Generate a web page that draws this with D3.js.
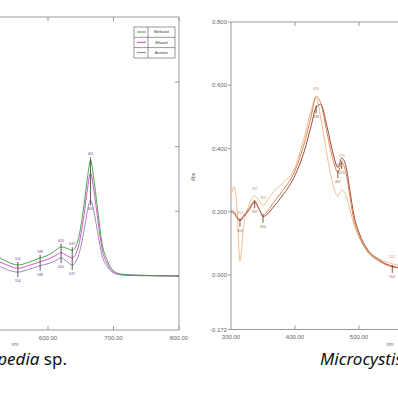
<!DOCTYPE html>
<html>
<head>
<meta charset="utf-8">
<script src="https://cdn.jsdelivr.net/npm/d3@7"></script>
<style>
  html, body { margin: 0; padding: 0; background: #fff; }
  svg { display: block; }
  .tick-label { font-family: 'Liberation Sans', Arial, sans-serif; font-size: 6px; fill: #666; }
  .caption { font-family: 'Noto Sans', sans-serif; font-size: 17px; fill: #111; }
</style>
</head>
<body>
<div id="chart"></div>
<script>
// ---- left panel (Merismopedia sp.) ----
const leftNm = [500, 526, 540, 554, 570, 588, 600, 612, 620, 628, 637, 646, 655, 660, 665, 670, 675, 683, 690, 698, 711, 725, 742, 770, 800];
const leftMethanol = [0.040, 0.028, 0.021, 0.017, 0.021, 0.028, 0.032, 0.040, 0.045, 0.043, 0.040, 0.056, 0.110, 0.150, 0.179, 0.150, 0.110, 0.048, 0.025, 0.010, 0.003, 0.002, 0.001, 0.0005, 0.0];
const leftEthanol = [0.034, 0.022, 0.016, 0.012, 0.016, 0.022, 0.026, 0.032, 0.036, 0.032, 0.028, 0.044, 0.095, 0.133, 0.159, 0.133, 0.095, 0.040, 0.020, 0.008, 0.002, 0.001, 0.001, 0.0005, 0.0];
const leftAcetone = [0.026, 0.015, 0.009, 0.006, 0.010, 0.016, 0.019, 0.024, 0.028, 0.023, 0.017, 0.030, 0.070, 0.100, 0.117, 0.100, 0.072, 0.030, 0.015, 0.006, 0.002, 0.001, 0.0005, 0.0, 0.0];
const leftSeries = ['Methanol', 'Ethanol', 'Acetone'];
const leftTicksX = [600, 700, 800];
const leftTicksY = [0, 0.1, 0.2, 0.3];
const leftMarks = [554, 588, 620, 637, 665];

// ---- right panel (Microcystis) ----
const rightNm = [300, 305, 309, 314, 320, 328, 337, 344, 350, 358, 365, 380, 400, 415, 425, 433, 440, 450, 460, 467, 473, 480, 486, 492, 500, 512, 533, 552, 570, 600];
const rightOrange = [0.205, 0.200, 0.185, 0.175, 0.190, 0.210, 0.235, 0.210, 0.190, 0.205, 0.225, 0.265, 0.330, 0.420, 0.500, 0.565, 0.545, 0.450, 0.360, 0.325, 0.355, 0.320, 0.245, 0.175, 0.125, 0.078, 0.042, 0.026, 0.021, 0.018];
const rightDark = [0.200, 0.195, 0.182, 0.172, 0.185, 0.205, 0.230, 0.208, 0.185, 0.195, 0.212, 0.250, 0.315, 0.395, 0.470, 0.530, 0.540, 0.470, 0.380, 0.340, 0.370, 0.340, 0.265, 0.190, 0.135, 0.085, 0.046, 0.028, 0.022, 0.019];
const rightPeach = [0.250, 0.280, 0.220, 0.045, 0.160, 0.220, 0.250, 0.235, 0.220, 0.240, 0.260, 0.290, 0.340, 0.440, 0.520, 0.560, 0.500, 0.380, 0.280, 0.250, 0.270, 0.250, 0.205, 0.160, 0.120, 0.080, 0.050, 0.036, 0.028, 0.024];
const rightTicksX = [300, 400, 500];
const rightTicksY = [0.8, 0.6, 0.4, 0.2, 0.0, -0.172];
const rightTickText = ['0.800', '0.600', '0.400', '0.200', '0.000', '-0.172'];
const rightMarks = [314, 337, 350, 433, 467, 473, 552];

const width = 398, height = 398;
const axisColor = '#9a9a9a';

const svg = d3.select('#chart').append('svg')
  .attr('width', width)
  .attr('height', height);

// ===== left panel =====
const lx = d3.scaleLinear().domain([600, 800]).range([48, 179]);
const ly = d3.scaleLinear().domain([0, 0.3]).range([276, 82]);
const leftColors = d3.scaleOrdinal().domain(leftSeries).range(['#3c9c3c', '#cc44c4', '#9a78b8']);

const left = svg.append('g');
// frame
left.append('line').attr('x1', 0).attr('x2', lx(800)).attr('y1', 17).attr('y2', 17).attr('stroke', axisColor);
left.append('line').attr('x1', 0).attr('x2', lx(800)).attr('y1', 330).attr('y2', 330).attr('stroke', axisColor);
left.append('line').attr('x1', lx(800)).attr('x2', lx(800)).attr('y1', 17).attr('y2', 330).attr('stroke', axisColor);

// x ticks top and bottom (inward)
leftTicksX.forEach(t => {
  left.append('line').attr('x1', lx(t)).attr('x2', lx(t)).attr('y1', 330).attr('y2', 326).attr('stroke', axisColor);
  left.append('line').attr('x1', lx(t)).attr('x2', lx(t)).attr('y1', 17).attr('y2', 21).attr('stroke', axisColor);
  left.append('text').attr('class', 'tick-label')
    .attr('x', lx(t)).attr('y', 340).attr('text-anchor', 'middle')
    .text(d3.format('.2f')(t));
});
// right border ticks
leftTicksY.forEach(t => {
  left.append('line').attr('x1', lx(800)).attr('x2', lx(800) - 4).attr('y1', ly(t)).attr('y2', ly(t)).attr('stroke', axisColor);
});
left.append('text').attr('class', 'tick-label').attr('x', 15).attr('y', 346).attr('text-anchor', 'middle').style('font-size', '5px').text('nm');

const leftLine = d3.line()
  .x((d, i) => lx(leftNm[i]))
  .y(d => ly(d))
  .curve(d3.curveMonotoneX);

[[leftAcetone, 'Acetone'], [leftEthanol, 'Ethanol'], [leftMethanol, 'Methanol']].forEach(([vals, name]) => {
  left.append('path')
    .attr('d', leftLine(vals))
    .attr('fill', 'none')
    .attr('stroke', leftColors(name))
    .attr('stroke-width', 0.9);
});

// peak/valley markers
leftMarks.forEach(nm => {
  const i = leftNm.indexOf(nm);
  const top = ly(leftMethanol[i]), bot = ly(leftAcetone[i]);
  left.append('line').attr('x1', lx(nm)).attr('x2', lx(nm)).attr('y1', top - 3).attr('y2', bot + 5).attr('stroke', '#333').attr('stroke-width', 0.8);
  left.append('text').attr('class', 'tick-label').style('font-size', '3.5px').style('fill', '#7a4a9a')
    .attr('x', lx(nm)).attr('y', bot + 10).attr('text-anchor', 'middle').text(nm.toFixed(0));
  left.append('text').attr('class', 'tick-label').style('font-size', '3.5px').style('fill', '#7a4a9a')
    .attr('x', lx(nm)).attr('y', top - 5).attr('text-anchor', 'middle').text(nm.toFixed(0));
});

// legend
const lg = left.append('g').attr('transform', 'translate(134,27)');
lg.append('rect').attr('width', 41).attr('height', 31).attr('fill', '#fff').attr('stroke', '#555').attr('stroke-width', 0.6);
lg.append('line').attr('x1', 14).attr('x2', 14).attr('y1', 0).attr('y2', 31).attr('stroke', '#555').attr('stroke-width', 0.6);
leftSeries.forEach((s, i) => {
  if (i > 0) lg.append('line').attr('x1', 0).attr('x2', 41).attr('y1', i * 10.3).attr('y2', i * 10.3).attr('stroke', '#555').attr('stroke-width', 0.6);
  lg.append('line').attr('x1', 3).attr('x2', 12).attr('y1', i * 10.3 + 5).attr('y2', i * 10.3 + 5).attr('stroke', leftColors(s));
  lg.append('text').attr('class', 'tick-label').style('font-size', '3.6px').style('fill', '#333')
    .attr('x', 27.5).attr('y', i * 10.3 + 6.3).attr('text-anchor', 'middle').text(s);
});

// caption
svg.append('text').attr('class', 'caption')
  .attr('x', 67).attr('y', 365).attr('text-anchor', 'end')
  .call(t => {
    t.append('tspan').style('font-style', 'italic').text('Merismopedia');
    t.append('tspan').text(' sp.');
  });

// ===== right panel =====
const rx = d3.scaleLinear().domain([300, 500]).range([231, 359]);
const ry = d3.scaleLinear().domain([-0.172, 0.8]).range([329.5, 22]);
const right = svg.append('g');

right.append('line').attr('x1', 231).attr('x2', width).attr('y1', ry(0.8)).attr('y2', ry(0.8)).attr('stroke', axisColor);
right.append('line').attr('x1', 231).attr('x2', width).attr('y1', ry(-0.172)).attr('y2', ry(-0.172)).attr('stroke', axisColor);
right.append('line').attr('x1', 231).attr('x2', 231).attr('y1', ry(0.8)).attr('y2', ry(-0.172)).attr('stroke', axisColor);

rightTicksY.forEach((t, i) => {
  right.append('line').attr('x1', 231).attr('x2', 228).attr('y1', ry(t)).attr('y2', ry(t)).attr('stroke', axisColor);
  right.append('text').attr('class', 'tick-label')
    .attr('x', 227).attr('y', ry(t) + 2).attr('text-anchor', 'end').text(rightTickText[i]);
});
rightTicksX.forEach(t => {
  if (t !== 300) {
    right.append('line').attr('x1', rx(t)).attr('x2', rx(t)).attr('y1', ry(-0.172)).attr('y2', ry(-0.172) - 4).attr('stroke', axisColor);
    right.append('line').attr('x1', rx(t)).attr('x2', rx(t)).attr('y1', ry(0.8)).attr('y2', ry(0.8) + 4).attr('stroke', axisColor);
  }
  right.append('text').attr('class', 'tick-label')
    .attr('x', rx(t)).attr('y', 339).attr('text-anchor', 'middle').text(d3.format('.2f')(t));
});
right.append('text').attr('class', 'tick-label').attr('x', 390).attr('y', 346).attr('text-anchor', 'middle').style('font-size', '5px').text('nm');
right.append('text').attr('class', 'tick-label').style('font-size', '5px')
  .attr('transform', 'translate(195,177) rotate(-90)').attr('text-anchor', 'middle').text('Abs');

const rightLine = vals => d3.line()
  .x((d, i) => rx(rightNm[i]))
  .y(d => ry(d))
  .curve(d3.curveMonotoneX)(vals);

[[rightPeach, '#f2b483'], [rightDark, '#8a3a2a'], [rightOrange, '#d8743a']].forEach(([vals, c]) => {
  right.append('path').attr('d', rightLine(vals))
    .attr('fill', 'none').attr('stroke', c).attr('stroke-width', 0.9);
});

rightMarks.forEach(nm => {
  const i = rightNm.indexOf(nm);
  const v = Math.min(rightOrange[i], rightDark[i]);
  right.append('line').attr('x1', rx(nm)).attr('x2', rx(nm)).attr('y1', ry(v) - 2).attr('y2', ry(v) + 6).attr('stroke', '#5a2a1a').attr('stroke-width', 0.8);
  right.append('text').attr('class', 'tick-label').style('font-size', '3.5px').style('fill', '#a0603a')
    .attr('x', rx(nm)).attr('y', ry(v) + 11).attr('text-anchor', 'middle').text(nm.toFixed(0));
  right.append('text').attr('class', 'tick-label').style('font-size', '3.5px').style('fill', '#c09070')
    .attr('x', rx(nm)).attr('y', ry(Math.max(rightOrange[i], rightPeach[i])) - 6).attr('text-anchor', 'middle').text(nm.toFixed(0));
});

svg.append('text').attr('class', 'caption').style('font-style', 'italic')
  .attr('x', 320).attr('y', 365).text('Microcystis aeruginosa');
</script>
</body>
</html>
